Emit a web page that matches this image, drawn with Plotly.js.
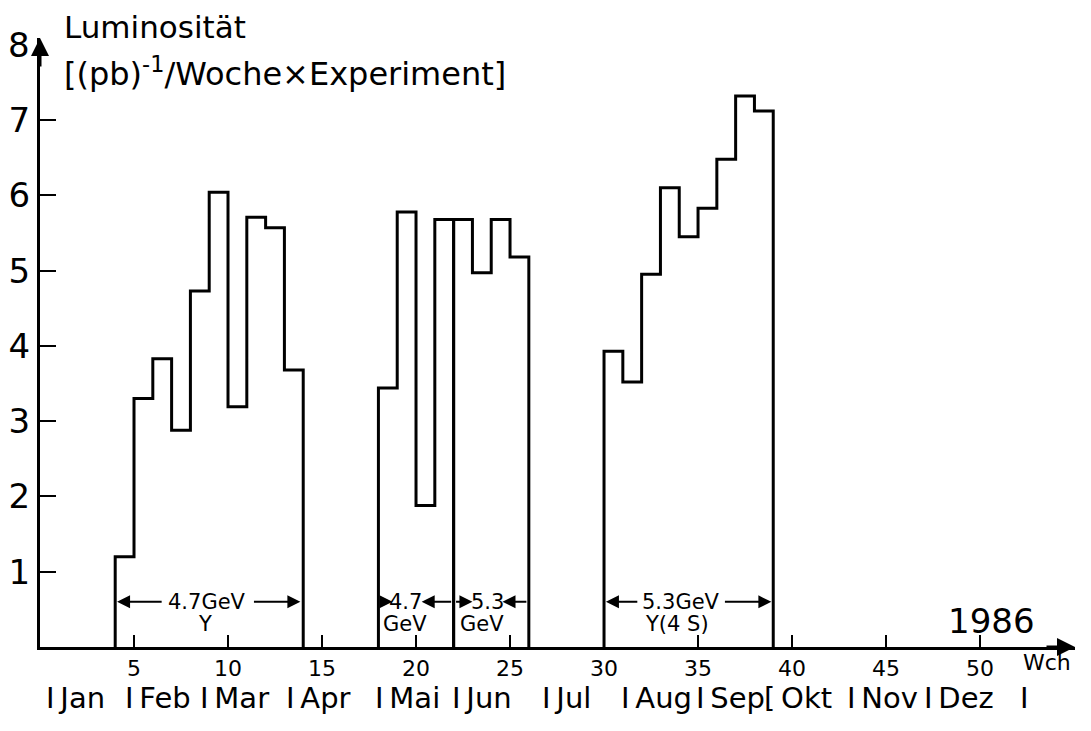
<!DOCTYPE html>
<html>
<head>
<meta charset="utf-8">
<script src="https://cdn.plot.ly/plotly-3.0.1.min.js"></script>
<style>
  html, body { margin: 0; padding: 0; background: #fff; }
  #chart { width: 1091px; height: 731px; }
</style>
</head>
<body>
<div id="chart"></div>
<script>
// ---- Data ----
// Weekly luminosity per experiment, (pb)^-1, step histogram by calendar week (1986)
const run1Start = 4;   // 4.7 GeV, Y
const run1Values = [1.2, 3.3, 3.83, 2.88, 4.73, 6.04, 3.19, 5.71, 5.57, 3.68];
const run2Start = 18;  // 4.7 GeV
const run2Values = [3.44, 5.78, 1.88, 5.68];
const run3Start = 22;  // 5.3 GeV
const run3Values = [5.68, 4.97, 5.68, 5.18];
const run4Start = 30;  // 5.3 GeV, Y(4S)
const run4Values = [3.93, 3.52, 4.95, 6.10, 5.45, 5.83, 6.48, 7.32, 7.12];

const xTickVals = [5, 10, 15, 20, 25, 30, 35, 40, 45, 50];
const xTickText = ['5', '10', '15', '20', '25', '30', '35', '40', '45', '50'];
const yTickVals = [1, 2, 3, 4, 5, 6, 7];
const yTickText = ['1', '2', '3', '4', '5', '6', '7'];

const monthNames = ['Jan', 'Feb', 'Mar', 'Apr', 'Mai', 'Jun', 'Jul', 'Aug', 'Sep', 'Okt', 'Nov', 'Dez'];
const monthSeparators = ['I', 'I', 'I', 'I', 'I', 'I', 'I', 'I', 'I', '[', 'I', 'I'];
const monthStartWeeks = [0.2, 4.4, 8.4, 13.0, 17.7, 21.8, 26.6, 30.8, 34.8, 38.4, 42.8, 46.9];
const yearEndWeek = 52.0;

const FONT = 'DejaVu Sans, Liberation Sans, sans-serif';

function stepTrace(start, values) {
  const x = [start];
  const y = [0];
  values.forEach((v, i) => { x.push(start + i); y.push(v); });
  x.push(start + values.length);
  y.push(0);
  return {
    type: 'scatter', mode: 'lines', x: x, y: y,
    line: { shape: 'hv', color: '#000', width: 3 },
    hoverinfo: 'skip', showlegend: false
  };
}

const data = [
  stepTrace(run1Start, run1Values),
  stepTrace(run2Start, run2Values),
  stepTrace(run3Start, run3Values),
  stepTrace(run4Start, run4Values)
];

const annotations = [];
const txt = (text, x, y, size, xref, yref, xanchor) => annotations.push({
  text: text, x: x, y: y, xref: xref || 'x', yref: yref || 'y',
  xanchor: xanchor || 'center', yanchor: 'middle', showarrow: false,
  font: { family: FONT, size: size, color: '#000' }
});
const arrow = (headX, tailX, y) => annotations.push({
  x: headX, y: y, ax: tailX, ay: y, xref: 'x', yref: 'y', axref: 'x', ayref: 'y',
  text: '', showarrow: true, arrowhead: 2, arrowsize: 1.3, arrowwidth: 2,
  arrowcolor: '#000', standoff: 0, startstandoff: 0
});

// Axis arrowheads
annotations.push({ x: 0, y: 1, xref: 'paper', yref: 'paper', ax: 0, ay: 30, text: '',
  showarrow: true, arrowhead: 2, arrowsize: 1.2, arrowwidth: 3, arrowcolor: '#000', standoff: 0 });
annotations.push({ x: 1, y: 0, xref: 'paper', yref: 'paper', ax: -30, ay: 0, text: '',
  showarrow: true, arrowhead: 2, arrowsize: 1.2, arrowwidth: 3, arrowcolor: '#000', standoff: 0 });

// Axis title (top left)
txt('Luminosität', 0.021, 1.018, 31, 'paper', 'paper', 'left');
txt('[(pb)<sup>-1</sup>/Woche×Experiment]', 0.021, 0.944, 32, 'paper', 'paper', 'left');
// "8" label at arrow top
txt('8', -0.02, 8, 34, 'paper', 'y', 'center');

// Run labels
txt('4.7GeV', 8.9, 0.6, 21);
txt('Y', 8.75, 0.3, 21);
arrow(4.1, 6.55, 0.6);
arrow(13.85, 11.3, 0.6);

txt('4.7', 19.45, 0.6, 21);
txt('GeV', 19.4, 0.3, 21);
arrow(18.75, 18.05, 0.6);
arrow(20.3, 21.95, 0.6);

txt('5.3', 23.8, 0.6, 21);
txt('GeV', 23.5, 0.3, 21);
arrow(23.0, 22.05, 0.6);
arrow(24.6, 25.95, 0.6);

txt('5.3GeV', 34.1, 0.6, 21);
txt('Y(4 S)', 33.9, 0.3, 21);
arrow(30.1, 31.85, 0.6);
arrow(38.9, 36.35, 0.6);

txt('1986', 50.6, 0.35, 34);
txt('Wch', 0.973, -0.026, 22, 'paper', 'paper', 'center');

// Month row
monthNames.forEach((m, i) => {
  txt(monthSeparators[i] + '\u2009' + m, monthStartWeeks[i], -0.084, 29, 'x', 'paper', 'left');
});
txt('I', yearEndWeek, -0.084, 29, 'x', 'paper', 'left');

const layout = {
  width: 1091, height: 731,
  paper_bgcolor: '#fff', plot_bgcolor: '#fff',
  margin: { l: 40, r: 16, t: 38, b: 84 },
  showlegend: false,
  xaxis: {
    range: [0, 55.05], tickvals: xTickVals, ticktext: xTickText,
    ticks: 'inside', ticklen: 12, tickwidth: 2, tickcolor: '#000',
    showline: true, linewidth: 3, linecolor: '#000',
    showgrid: false, zeroline: false, fixedrange: true,
    tickfont: { family: FONT, size: 22, color: '#000' }
  },
  yaxis: {
    range: [0, 8.09], tickvals: yTickVals, ticktext: yTickText,
    ticks: 'inside', ticklen: 16, tickwidth: 2, tickcolor: '#000',
    showline: true, linewidth: 3, linecolor: '#000',
    showgrid: false, zeroline: false, fixedrange: true,
    ticklabelstandoff: 0,
    tickfont: { family: FONT, size: 34, color: '#000' }
  },
  annotations: annotations
};

Plotly.newPlot('chart', data, layout, { displayModeBar: false, staticPlot: true });
</script>
</body>
</html>
